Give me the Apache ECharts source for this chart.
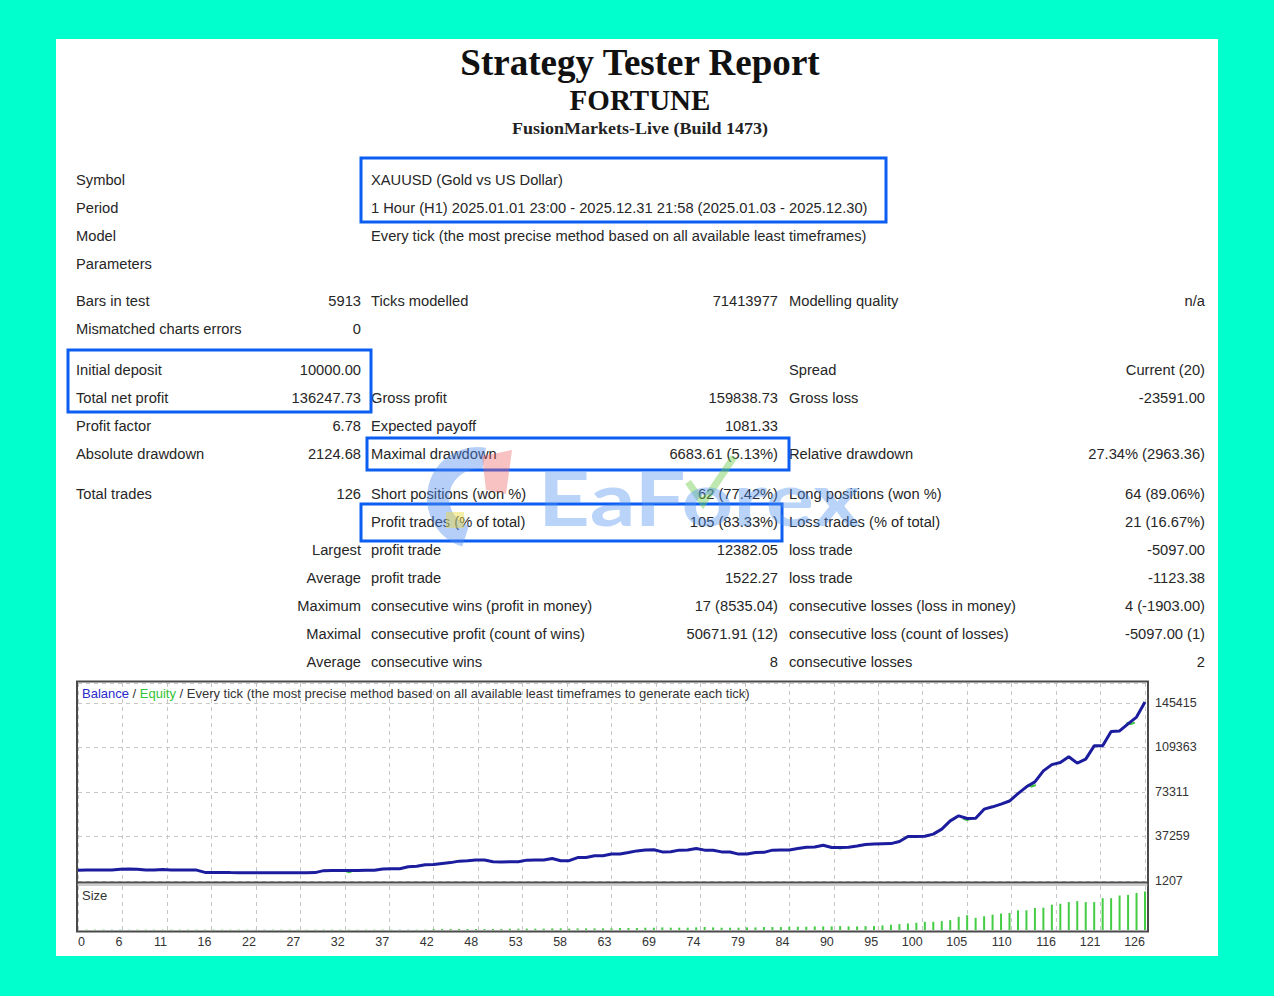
<!DOCTYPE html>
<html>
<head>
<meta charset="utf-8">
<script src="https://cdn.jsdelivr.net/npm/echarts@6/dist/echarts.min.js"></script>
<style>
html,body{margin:0;padding:0;background:#00ffcc;}
#c{width:1274px;height:996px;}
</style>
</head>
<body>
<div id="c"></div>
<script>
// ---------------- DATA ----------------
const tradeTickLabels = ["0","6","11","16","22","27","32","37","42","48","53","58","63","69","74","79","84","90","95","100","105","110","116","121","126"];
const balanceTickLabels = ["1207","37259","73311","109363","145415"];
// balance after each trade (index 0 = initial deposit)
const balance = [
  10000,10030,10060,10090,10120,10650,10839,10780,10150,10100,
  10620,10150,10120,10090,10050,8150,8100,8050,8000,7960,
  7930,7900,7875,7890,7920,7940,7960,7990,8020,9600,
  9650,9700,9750,9780,9820,9860,11000,11100,11200,12700,
  13100,14300,14500,15400,16100,17300,17600,18300,18200,16800,
  16700,16750,16800,18100,18200,18300,19400,17600,17650,20200,
  20300,21600,21700,23000,23100,24300,25600,26400,26500,24800,
  24900,26200,26300,27500,26200,26100,24800,24700,23000,23100,
  24300,24400,26200,26300,26400,27500,28600,28700,30200,28300,
  28400,28500,29500,30800,31100,31300,31500,33200,37200,37300,
  37400,39200,43200,49900,54000,51800,52100,59400,61300,63500,
  66000,72000,77500,81500,90400,95500,97200,101800,96700,99900,
  110700,110800,122300,122800,128500,134000,146247.73
];
// trade volume (lots) per trade (index 0 = no trade)
const lotSize = [
  0,
  0.01,0.01,0.01,0.01,0.01,0.01,0.01,0.01,0.01,0.01,
  0.01,0.01,0.01,0.01,0.01,0.01,0.01,0.01,0.01,0.01,
  0.01,0.01,0.01,0.01,0.01,0.01,0.01,0.01,0.01,0.01,
  0.01,0.01,0.01,0.01,0.01,0.01,0.01,0.01,0.01,0.01,
  0.01,0.03,0.03,0.03,0.03,0.03,0.03,0.03,0.03,0.03,
  0.04,0.04,0.04,0.04,0.04,0.05,0.05,0.04,0.05,0.05,
  0.05,0.05,0.05,0.06,0.06,0.06,0.07,0.07,0.08,0.07,
  0.07,0.07,0.08,0.09,0.08,0.07,0.07,0.07,0.08,0.08,
  0.09,0.09,0.09,0.1,0.1,0.1,0.11,0.11,0.11,0.12,
  0.11,0.11,0.12,0.12,0.14,0.16,0.18,0.2,0.22,0.25,
  0.25,0.27,0.3,0.4,0.45,0.37,0.42,0.47,0.5,0.52,
  0.6,0.6,0.67,0.68,0.77,0.8,0.85,0.88,0.85,0.85,
  0.97,0.97,1.05,1.07,1.13,1.17
];
// equity dips below balance: [trade, balance level, equity low]
const equityDips = [[32, 9750, 8300],[90, 28400, 27600],[105, 51800, 50600],[112.6, 79000, 77800],[124.3, 129500, 128400]];

// report text
const headerLines = ["Strategy Tester Report","FORTUNE","FusionMarkets-Live (Build 1473)"];
const infoLabels = ["Symbol","Period","Model","Parameters"];
const infoValues = ["XAUUSD (Gold vs US Dollar)","1 Hour (H1) 2025.01.01 23:00 - 2025.12.31 21:58 (2025.01.03 - 2025.12.30)","Every tick (the most precise method based on all available least timeframes)",""];
const statRows = [
  ["Bars in test","5913","Ticks modelled","71413977","Modelling quality","n/a"],
  ["Mismatched charts errors","0","","","",""],
  ["Initial deposit","10000.00","","","Spread","Current (20)"],
  ["Total net profit","136247.73","Gross profit","159838.73","Gross loss","-23591.00"],
  ["Profit factor","6.78","Expected payoff","1081.33","",""],
  ["Absolute drawdown","2124.68","Maximal drawdown","6683.61 (5.13%)","Relative drawdown","27.34% (2963.36)"],
  ["Total trades","126","Short positions (won %)","62 (77.42%)","Long positions (won %)","64 (89.06%)"],
  ["","","Profit trades (% of total)","105 (83.33%)","Loss trades (% of total)","21 (16.67%)"],
  ["","Largest","profit trade","12382.05","loss trade","-5097.00"],
  ["","Average","profit trade","1522.27","loss trade","-1123.38"],
  ["","Maximum","consecutive wins (profit in money)","17 (8535.04)","consecutive losses (loss in money)","4 (-1903.00)"],
  ["","Maximal","consecutive profit (count of wins)","50671.91 (12)","consecutive loss (count of losses)","-5097.00 (1)"],
  ["","Average","consecutive wins","8","consecutive losses","2"]
];
const chartTitleRest = " / Every tick (the most precise method based on all available least timeframes to generate each tick)";
const watermarkText = "EaForex";

// ---------------- LAYOUT ----------------
const Y_BASE = Number(balanceTickLabels[0]);
const Y_STEP = Number(balanceTickLabels[1]) - Y_BASE;
const X_STEP = Number(tradeTickLabels[tradeTickLabels.length-1]) / (tradeTickLabels.length-1);
const TXT = '"Liberation Sans", Arial, sans-serif';
const SERIF = '"Liberation Serif", "Times New Roman", serif';
const FS = '14.7px ';
const textColor = '#262626';
const boxColor = '#0c5ef2';

const graphics = [];
graphics.push({type:'rect', z:-10, shape:{x:56,y:39,width:1162,height:917}, style:{fill:'#ffffff'}});

function txt(x, y, text, opts){
  opts = opts || {};
  graphics.push({
    type:'text', x:x, y:y, z: opts.z || 5, scaleX: opts.scaleX || 1,
    style:{x:0,y:0,text:text, fill: opts.fill || textColor,
      font: opts.font || (FS + TXT),
      align: opts.align || 'left', verticalAlign:'middle', rich: opts.rich}
  });
}
// header
txt(640, 62, headerLines[0], {font:'bold 38px ' + SERIF, align:'center', fill:'#111', scaleX:0.975});
txt(640, 100, headerLines[1], {font:'bold 29px ' + SERIF, align:'center', fill:'#111', scaleX:1.0});
txt(640, 128, headerLines[2], {font:'bold 17px ' + SERIF, align:'center', fill:'#222', scaleX:1.06});

// info rows
const infoY = [180,208,236,264];
infoLabels.forEach((l,i)=>{ txt(76, infoY[i], l); if (infoValues[i]) txt(371, infoY[i], infoValues[i]); });

// stat rows
const rowY = [301,329,370,398,426,454,494,522,550,578,606,634,662];
statRows.forEach((r,i)=>{
  const y = rowY[i];
  if (r[0]) txt(76, y, r[0]);
  if (r[1]) txt(361, y, r[1], {align:'right'});
  if (r[2]) txt(371, y, r[2]);
  if (r[3]) txt(778, y, r[3], {align:'right'});
  if (r[4]) txt(789, y, r[4]);
  if (r[5]) txt(1205, y, r[5], {align:'right'});
});

// highlight boxes
[[361,158,525,64],[68,350,303,62],[367,438,422,32],[361,504,421,37]].forEach(b=>{
  graphics.push({type:'rect', z:6, shape:{x:b[0],y:b[1],width:b[2],height:b[3]}, style:{fill:'none', stroke:boxColor, lineWidth:3}});
});

// watermark (logo + text)
graphics.push({type:'arc', z:7, shape:{cx:478, cy:498, r:40, startAngle:Math.PI*0.6, endAngle:Math.PI*1.55}, style:{stroke:'rgba(80,140,240,0.42)', lineWidth:22, fill:'none'}});
graphics.push({type:'polygon', z:7, shape:{points:[[482,456],[512,450],[506,494],[486,490]]}, style:{fill:'rgba(240,95,95,0.38)'}});
graphics.push({type:'rect', z:7, shape:{x:446,y:512,width:18,height:16}, style:{fill:'rgba(235,215,60,0.45)'}});
graphics.push({type:'polyline', z:7, shape:{points:[[688,482],[703,503],[734,457]]}, style:{stroke:'rgba(110,205,80,0.45)', lineWidth:7, fill:'none'}});
txt(538, 498, watermarkText, {font:'bold 74px Lato, ' + TXT, fill:'rgba(80,145,240,0.40)', z:7, scaleX:1.22});

// chart frame
graphics.push({type:'rect', z:8, shape:{x:77,y:681.5,width:1071,height:250}, style:{fill:'none', stroke:'#4a4a4a', lineWidth:2}});
graphics.push({type:'line', z:8, shape:{x1:77,y1:882.5,x2:1148,y2:882.5}, style:{stroke:'#4a4a4a', lineWidth:2}});
graphics.push({type:'line', z:8, shape:{x1:77,y1:885,x2:1148,y2:885}, style:{stroke:'#9a9a9a', lineWidth:1}});
// chart legend title
const F13 = '13px ' + TXT;
txt(82, 693, '{b|Balance}{s| / }{e|Equity}{s|' + chartTitleRest + '}', {font:F13, z:8,
  rich:{b:{fill:'#2a2acc', font:F13}, e:{fill:'#33c433', font:F13}, s:{fill:'#333', font:F13}}});
txt(82, 895, 'Size', {font:F13, z:8, fill:'#333'});

// ---------------- SERIES DATA ----------------
const balanceData = balance.map((v,i)=>[i, v - Y_BASE]);
const equityData = [];
equityDips.forEach(d=>{
  equityData.push([d[0]-0.5, d[1]-Y_BASE],[d[0], d[2]-Y_BASE],[d[0]+0.5, d[1]-Y_BASE],[d[0]+0.5,'-']);
});
const sizeData = lotSize.map((v,i)=>[i, v]);

const splitDash = {show:true, lineStyle:{color:'#c6c6c6', width:1, type:[4,4]}};

const chart = echarts.init(document.getElementById('c'), null, {renderer:'svg', width:1274, height:996});
chart.setOption({
  backgroundColor:'#00ffcc',
  animation:false,
  grid:[
    {left:78, top:683, width:1067, height:198},
    {left:78, top:886, width:1067, height:44}
  ],
  xAxis:[
    {gridIndex:0, type:'value', min:0, max:126, interval:X_STEP,
      axisLabel:{show:false}, axisTick:{show:false}, axisLine:{show:false}, splitLine:splitDash},
    {gridIndex:1, type:'value', min:0, max:126, interval:X_STEP,
      axisTick:{show:false}, axisLine:{show:false}, splitLine:splitDash,
      axisLabel:{show:true, margin:5, color:'#333', fontSize:12.5, fontFamily:TXT, align:'right', alignMinLabel:'left',
        formatter:function(v){ const k=Math.round(v/X_STEP); return Math.abs(v-k*X_STEP)<1e-6 ? tradeTickLabels[k] : ''; }}}
  ],
  yAxis:[
    {gridIndex:0, type:'value', position:'right', min:0, max:160400, interval:Y_STEP,
      axisLine:{show:false}, axisTick:{show:false}, splitLine:splitDash,
      axisLabel:{margin:10, color:'#333', fontSize:12.5, fontFamily:TXT, align:'left',
        formatter:function(v){ const k=Math.round(v/Y_STEP); return (Math.abs(v-k*Y_STEP)<1e-6 && k<balanceTickLabels.length) ? balanceTickLabels[k] : ''; }}},
    {gridIndex:1, type:'value', min:0, max:1.34, show:false}
  ],
  series:[
    {type:'line', name:'Equity', xAxisIndex:0, yAxisIndex:0, data:equityData, symbol:'none', z:2,
      lineStyle:{color:'#3cc43c', width:2}, connectNulls:false},
    {type:'line', name:'Balance', xAxisIndex:0, yAxisIndex:0, data:balanceData, symbol:'none', z:3,
      lineStyle:{color:'#1c1c9e', width:3}},
    {type:'bar', name:'Size', xAxisIndex:1, yAxisIndex:1, data:sizeData, barWidth:2,
      itemStyle:{color:'#44cc44'}}
  ],
  graphic:{elements:graphics}
});
</script>
</body>
</html>
